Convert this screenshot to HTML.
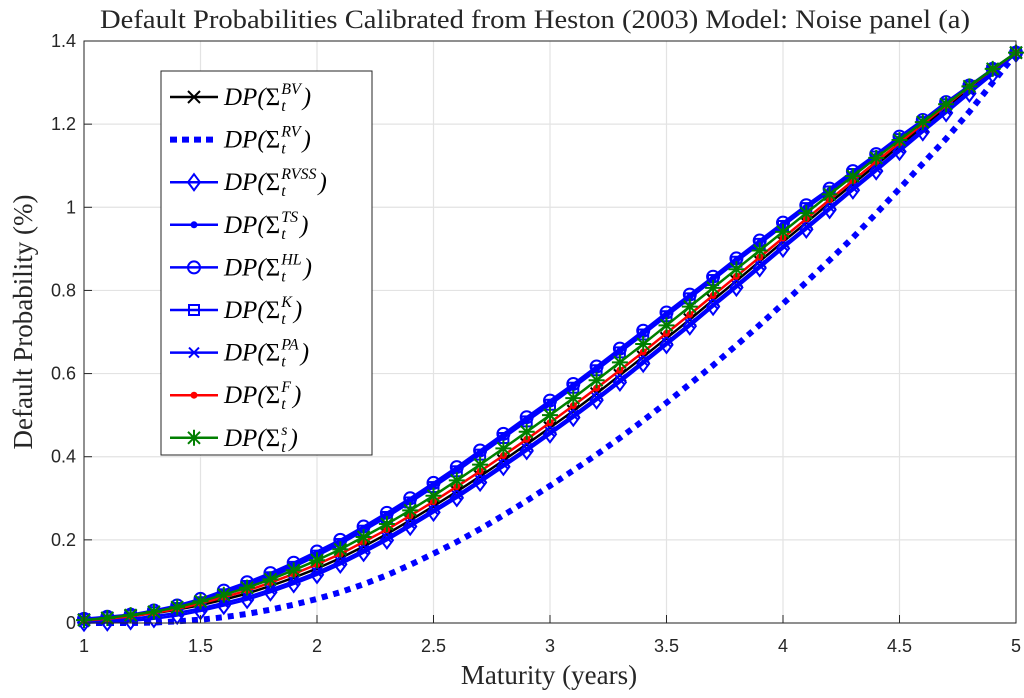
<!DOCTYPE html>
<html><head><meta charset="utf-8"><style>
html,body{margin:0;padding:0;background:#fff;width:1024px;height:698px;overflow:hidden}
svg{display:block}
.tk{font-family:"Liberation Sans",sans-serif;font-size:18px;fill:#262626}
.ser{font-family:"Liberation Serif",serif;fill:#262626}
.lg{font-family:"Liberation Serif",serif;font-style:italic;font-size:25px;fill:#000}
.lgs{font-family:"Liberation Serif",serif;font-style:italic;font-size:16px;fill:#000}
</style></head><body>
<svg id="chart" width="1024" height="698">
<g id="grid"></g>
<g id="series"></g>
<rect x="84" y="41" width="932" height="582" fill="none" stroke="#262626" stroke-width="1"/>
<g id="ticks"></g>
<text x="535" y="28" text-anchor="middle" class="ser" font-size="26" textLength="870" lengthAdjust="spacingAndGlyphs">Default Probabilities Calibrated from Heston (2003) Model: Noise panel (a)</text>
<text x="549" y="684" text-anchor="middle" class="ser" font-size="27">Maturity (years)</text>
<text transform="translate(32,322) rotate(-90)" text-anchor="middle" class="ser" font-size="27">Default Probability (%)</text>
<g id="legend"></g>
</svg>
<script>
const maturities=[1,1.1,1.2,1.3,1.4,1.5,1.6,1.7,1.8,1.9,2,2.1,2.2,2.3,2.4,2.5,2.6,2.7,2.8,2.9,3,3.1,3.2,3.3,3.4,3.5,3.6,3.7,3.8,3.9,4,4.1,4.2,4.3,4.4,4.5,4.6,4.7,4.8,4.9,5];
const dpBV=[.008,.012,.017,.023,.032,.043,.056,.071,.089,.109,.131,.156,.184,.214,.247,.281,.316,.353,.391,.43,.47,.51,.552,.596,.64,.685,.73,.777,.823,.87,.917,.963,1.01,1.056,1.102,1.148,1.194,1.24,1.285,1.328,1.372];
const dpRV=[0,0,0,.001,.004,.008,.014,.022,.032,.044,.058,.074,.093,.115,.14,.167,.195,.226,.259,.294,.33,.367,.405,.445,.487,.53,.575,.62,.668,.717,.768,.82,.873,.927,.985,1.045,1.105,1.165,1.23,1.3,1.37];
const dpRVSS=[.001,.002,.005,.01,.018,.029,.042,.056,.074,.094,.116,.141,.169,.199,.232,.266,.301,.338,.376,.414,.454,.494,.536,.579,.624,.669,.714,.761,.807,.854,.901,.947,.994,1.041,1.087,1.134,1.181,1.227,1.274,1.32,1.37];
const dpTS=[.009,.013,.018,.027,.038,.053,.073,.093,.115,.14,.167,.195,.227,.26,.295,.332,.37,.41,.45,.49,.53,.57,.612,.655,.698,.742,.785,.828,.872,.915,.958,1,1.04,1.082,1.123,1.165,1.206,1.249,1.29,1.331,1.372];
const dpHL=[.01,.015,.02,.03,.042,.058,.078,.098,.12,.145,.172,.2,.232,.265,.3,.337,.375,.415,.455,.495,.535,.575,.617,.66,.703,.747,.79,.833,.877,.92,.963,1.005,1.045,1.087,1.128,1.17,1.21,1.253,1.293,1.333,1.372];
const dpK=[.009,.013,.018,.026,.036,.05,.069,.089,.11,.135,.162,.19,.222,.255,.29,.327,.365,.405,.445,.485,.525,.566,.608,.651,.694,.738,.781,.825,.869,.912,.955,.998,1.038,1.08,1.122,1.164,1.205,1.248,1.29,1.331,1.372];
const dpPA=[.003,.006,.01,.016,.024,.035,.048,.062,.08,.1,.122,.147,.175,.205,.238,.272,.307,.344,.382,.42,.46,.5,.542,.585,.63,.675,.72,.767,.813,.86,.907,.953,1,1.047,1.093,1.14,1.187,1.233,1.28,1.325,1.372];
const dpF=[.006,.01,.016,.024,.034,.047,.062,.078,.097,.118,.141,.166,.195,.225,.258,.292,.328,.365,.403,.442,.482,.523,.565,.608,.652,.697,.742,.788,.834,.88,.926,.972,1.018,1.064,1.11,1.155,1.2,1.245,1.29,1.332,1.372];
const dpS=[.007,.012,.019,.027,.038,.052,.068,.085,.105,.127,.151,.177,.207,.238,.271,.306,.343,.381,.42,.46,.5,.541,.584,.627,.671,.716,.761,.806,.851,.896,.941,.986,1.031,1.075,1.119,1.162,1.205,1.248,1.291,1.333,1.372];
const xTicks=[1,1.5,2,2.5,3,3.5,4,4.5,5];
const xTickLabels=["1","1.5","2","2.5","3","3.5","4","4.5","5"];
const yTicks=[0,0.2,0.4,0.6,0.8,1,1.2,1.4];
const yTickLabels=["0","0.2","0.4","0.6","0.8","1","1.2","1.4"];
const seriesNames=["BV","RV","RVSS","TS","HL","K","PA","F","s"];

const NS="http://www.w3.org/2000/svg";
const X0=84,X1=1016,Y0=623,Y1=41;
const sx=v=>X0+(v-1)/(5-1)*(X1-X0);
const sy=v=>Y0-(v/1.4)*(Y0-Y1);
function mk(tag,attrs,parent){const e=document.createElementNS(NS,tag);for(const k in attrs)e.setAttribute(k,attrs[k]);parent.appendChild(e);return e;}
const grid=document.getElementById('grid'),ticks=document.getElementById('ticks');
xTicks.forEach((t,i)=>{
  const g=mk('line',{x1:sx(t),x2:sx(t),y1:Y1,y2:Y0,stroke:'#e3e3e3','stroke-width':1.2},grid);
  
  
  mk('line',{x1:sx(t),x2:sx(t),y1:Y0,y2:Y0-8,stroke:'#262626'},ticks);
  const tx=mk('text',{x:sx(t),y:652,'text-anchor':'middle',class:'tk'},ticks);tx.textContent=xTickLabels[i];
  
  
});
yTicks.forEach((t,i)=>{
  const g=mk('line',{x1:X0,x2:X1,y1:sy(t),y2:sy(t),stroke:'#e3e3e3','stroke-width':1.2},grid);
  
  
  mk('line',{x1:X0,x2:X0+8,y1:sy(t),y2:sy(t),stroke:'#262626'},ticks);
  const tx=mk('text',{x:76,y:sy(t)+6,'text-anchor':'end',class:'tk'},ticks);tx.textContent=yTickLabels[i];
  
  
});
function marker(type,x,y,color,p){
  const s={stroke:color,'stroke-width':2,fill:'none'};
  if(type==='x'){mk('path',Object.assign({d:`M${x-6} ${y-6}L${x+6} ${y+6}M${x-6} ${y+6}L${x+6} ${y-6}`},s),p);}
  else if(type==='sx'){mk('path',Object.assign({d:`M${x-5} ${y-5}L${x+5} ${y+5}M${x-5} ${y+5}L${x+5} ${y-5}`},s),p);}
  else if(type==='d'){mk('path',Object.assign({d:`M${x} ${y-8}L${x+6} ${y}L${x} ${y+8}L${x-6} ${y}Z`},s),p);}
  else if(type==='dot'){mk('circle',{cx:x,cy:y,r:3.5,fill:color},p);}
  else if(type==='o'){mk('circle',Object.assign({cx:x,cy:y,r:6},s),p);}
  else if(type==='sq'){mk('rect',Object.assign({x:x-5,y:y-5,width:10,height:10},s),p);}
  else if(type==='*'){mk('path',Object.assign({d:`M${x-8} ${y}L${x+8} ${y}M${x} ${y-8}L${x} ${y+8}M${x-6} ${y-6}L${x+6} ${y+6}M${x-6} ${y+6}L${x+6} ${y-6}`},s),p);}
}
const defs=[
 {vals:dpBV,color:'#000',m:'x',dash:null,w:2.5},
 {vals:dpRV,color:'#0000ff',m:null,dash:'6 6',w:6},
 {vals:dpRVSS,color:'#0000ff',m:'d',dash:null,w:2.5},
 {vals:dpTS,color:'#0000ff',m:'dot',dash:null,w:2.5},
 {vals:dpHL,color:'#0000ff',m:'o',dash:null,w:2.5},
 {vals:dpK,color:'#0000ff',m:'sq',dash:null,w:2.5},
 {vals:dpPA,color:'#0000ff',m:'sx',dash:null,w:2.5},
 {vals:dpF,color:'#ff0000',m:'dot',dash:null,w:2.5},
 {vals:dpS,color:'#007f00',m:'*',dash:null,w:2.5}
];
const sg=document.getElementById('series');
defs.forEach((d,k)=>{
  const g=mk('g',{},sg);
  
  
  const pts=maturities.map((m,i)=>sx(m).toFixed(1)+','+sy(d.vals[i]).toFixed(1)).join(' ');
  const a={points:pts,fill:'none',stroke:d.color,'stroke-width':d.w};
  if(d.dash)a['stroke-dasharray']=d.dash;
  mk('polyline',a,g);
  if(d.m)maturities.forEach((m,i)=>marker(d.m,sx(m),sy(d.vals[i]),d.color,g));
});
const lg=document.getElementById('legend');
mk('rect',{x:161,y:71,width:211,height:384,fill:'#fff',stroke:'#262626','stroke-width':1},lg);
defs.forEach((d,k)=>{
  const y=97+k*42.6;
  const g=mk('g',{},lg);
  
  
  const a={x1:170,x2:218,y1:y,y2:y,stroke:d.color,'stroke-width':d.w};
  if(d.dash){a['stroke-dasharray']='7 5';a['stroke-width']=6;}
  mk('line',a,g);
  if(d.m)marker(d.m,194,y,d.color,g);
  const t1=mk('text',{x:224,y:y+8,class:'lg'},g);
  t1.innerHTML='DP(<tspan font-style="normal">Σ</tspan>';
  const w=t1.getComputedTextLength();
  const sp=mk('text',{x:224+w+1,y:y-3,class:'lgs'},g);sp.textContent=seriesNames[k];
  const sb=mk('text',{x:224+w+1,y:y+14,class:'lgs'},g);sb.textContent='t';
  const mw=Math.max(sp.getComputedTextLength(),sb.getComputedTextLength());
  const cp=mk('text',{x:224+w+mw+3,y:y+8,class:'lg'},g);cp.textContent=')';
});
</script>
</body></html>
